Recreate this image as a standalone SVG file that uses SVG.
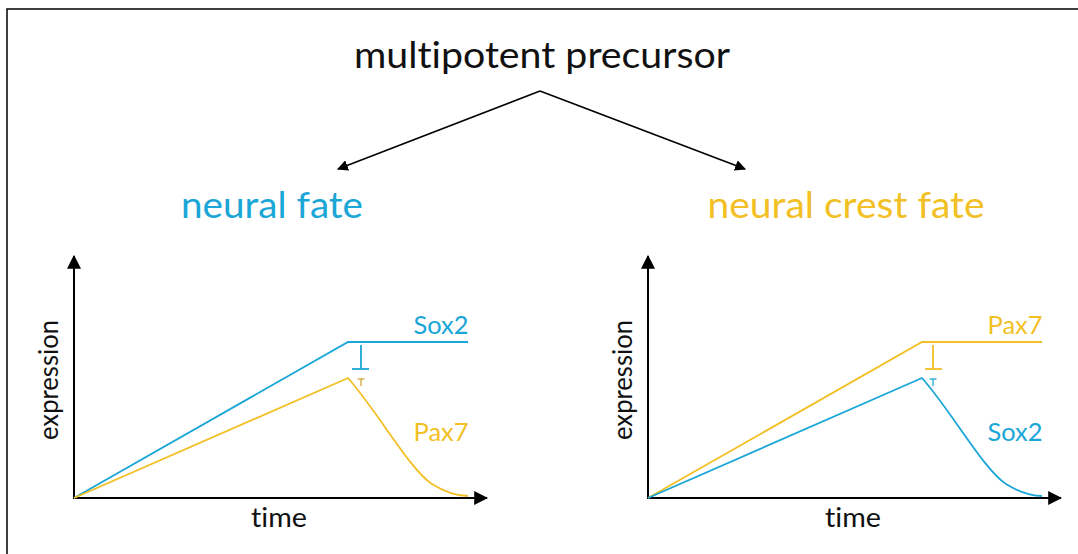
<svg xmlns="http://www.w3.org/2000/svg" width="1078" height="554" viewBox="0 0 1078 554">
  <style>
    text { font-family: Lato, "Open Sans", "Liberation Sans", sans-serif; font-variant-ligatures: none; }
    .title { font-size: 36px; fill: #111; }
    .fate { font-size: 36px; }
    .lbl { font-size: 25px; }
    .ax { font-size: 26px; fill: #111; }
    .blue { fill: #1aa6d6; }
    .gold { fill: #f2bf25; }
    .axis { stroke: #000; stroke-width: 2; fill: none; }
    .link { stroke: #000; stroke-width: 1.6; fill: none; }
    .bl { stroke: #1aa6d6; stroke-width: 1.8; fill: none; }
    .gl { stroke: #f2bf25; stroke-width: 1.8; fill: none; }
  </style>
  <defs>
    <marker id="tri" viewBox="0 0 10 10" refX="9" refY="5" markerWidth="11" markerHeight="11" markerUnits="userSpaceOnUse" orient="auto">
      <path d="M0,0 L10,5 L0,10 z" fill="#000"/>
    </marker>
    <marker id="axtri" viewBox="0 0 12 12" refX="11" refY="6" markerWidth="14" markerHeight="14" markerUnits="userSpaceOnUse" orient="auto">
      <path d="M0,0 L12,6 L0,12 z" fill="#000"/>
    </marker>
  </defs>

  <rect width="1078" height="554" fill="#fff"/>
  <!-- frame (top and left edges) -->
  <path d="M7,560 L7,9 L1080,9" stroke="#000" stroke-width="1.5" fill="none"/>

  <g id="precursor">
    <text class="title" x="542" y="68" text-anchor="middle" textLength="376" lengthAdjust="spacingAndGlyphs">multipotent precursor</text>
  </g>

  <g id="neural-fate">
    <text class="fate blue" x="272" y="218" text-anchor="middle" textLength="182" lengthAdjust="spacingAndGlyphs">neural fate</text>
  </g>

  <g id="neural-crest-fate">
    <text class="fate gold" x="846" y="218" text-anchor="middle" textLength="277" lengthAdjust="spacingAndGlyphs">neural crest fate</text>
  </g>

  <g id="connectors">
    <line class="link" x1="540" y1="91" x2="338" y2="169" marker-end="url(#tri)"/>
    <line class="link" x1="540" y1="91" x2="745" y2="169" marker-end="url(#tri)"/>
  </g>

  <!-- left chart: neural fate -->
  <g id="chart-neural">
    <line class="axis" x1="74" y1="499" x2="74" y2="256" marker-end="url(#axtri)"/>
    <line class="axis" x1="73" y1="498" x2="487" y2="498" marker-end="url(#axtri)"/>
    <polyline class="bl" points="74,498 348,342 468,342"/>
    <path class="gl" d="M74,498 L348,378 C378,412 410,470 432,484 C448,494 458,496 468,496"/>
    <line class="bl" x1="361" y1="345" x2="361" y2="369"/>
    <line class="bl" x1="352" y1="369" x2="369" y2="369"/>
    <line stroke="#c9a53a" stroke-width="1.3" x1="357.5" y1="379" x2="364.5" y2="379"/>
    <line stroke="#c9a53a" stroke-width="1.3" x1="361" y1="379" x2="361" y2="386"/>
    <text class="lbl blue" x="441" y="334" text-anchor="middle" textLength="55" lengthAdjust="spacingAndGlyphs">Sox2</text>
    <text class="lbl gold" x="441" y="441" text-anchor="middle" textLength="55" lengthAdjust="spacingAndGlyphs">Pax7</text>
    <text class="ax" x="279" y="527" text-anchor="middle" textLength="56" lengthAdjust="spacingAndGlyphs">time</text>
    <text class="ax" transform="translate(58,380) rotate(-90)" text-anchor="middle" textLength="120" lengthAdjust="spacingAndGlyphs">expression</text>
  </g>

  <!-- right chart: neural crest fate -->
  <g id="chart-crest">
    <line class="axis" x1="648" y1="499" x2="648" y2="256" marker-end="url(#axtri)"/>
    <line class="axis" x1="647" y1="498" x2="1061" y2="498" marker-end="url(#axtri)"/>
    <polyline class="gl" points="648,498 922,342 1042,342"/>
    <path class="bl" d="M648,498 L922,378 C952,412 984,470 1006,484 C1022,494 1032,496 1042,496"/>
    <line class="gl" x1="933" y1="345" x2="933" y2="369"/>
    <line class="gl" x1="925" y1="369" x2="942" y2="369"/>
    <line stroke="#1aa6d6" stroke-width="1.3" x1="929.5" y1="379" x2="936.5" y2="379"/>
    <line stroke="#1aa6d6" stroke-width="1.3" x1="933" y1="379" x2="933" y2="386"/>
    <text class="lbl gold" x="1015" y="334" text-anchor="middle" textLength="55" lengthAdjust="spacingAndGlyphs">Pax7</text>
    <text class="lbl blue" x="1015" y="441" text-anchor="middle" textLength="55" lengthAdjust="spacingAndGlyphs">Sox2</text>
    <text class="ax" x="853" y="527" text-anchor="middle" textLength="56" lengthAdjust="spacingAndGlyphs">time</text>
    <text class="ax" transform="translate(632,380) rotate(-90)" text-anchor="middle" textLength="120" lengthAdjust="spacingAndGlyphs">expression</text>
  </g>
</svg>
